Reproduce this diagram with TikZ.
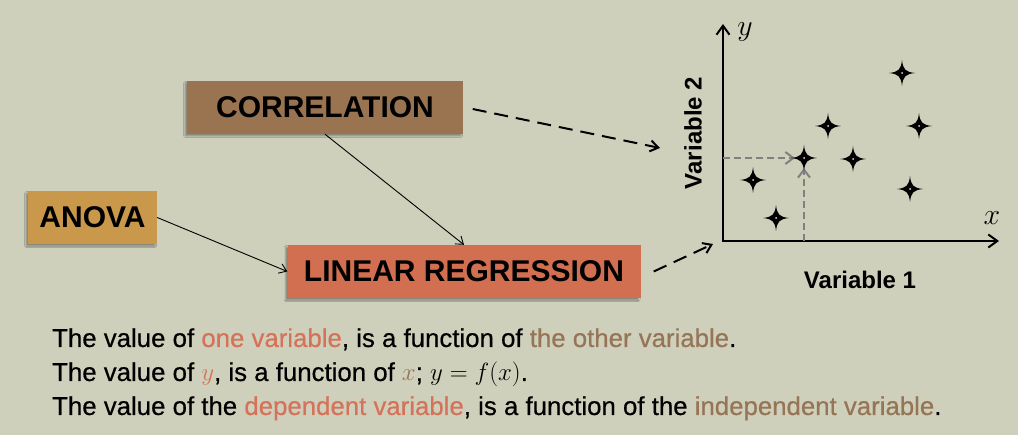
\documentclass[tikz,border=0pt]{standalone}
\usepackage{fontspec}
\setmainfont{Liberation Sans}
\newfontfamily\mediumsans[FakeBold=0.5]{Liberation Sans}
\usetikzlibrary{arrows.meta,positioning,calc,shadows.blur}
\definecolor{slidebg}{HTML}{CFD0BB}
\definecolor{corrbrown}{HTML}{9A7351}
\definecolor{anovagold}{HTML}{C9984A}
\definecolor{regred}{HTML}{D26F50}
\definecolor{keyred}{HTML}{D4735A}
\definecolor{keybrown}{HTML}{967456}
\definecolor{guidegray}{HTML}{80817F}
\newcommand{\bigmath}[1]{{\fontsize{29}{30}\selectfont$#1$}}

\tikzset{
  labelbox/.style={minimum height=53pt, inner sep=0pt, text=black,
    font=\fontsize{30}{36}\selectfont\bfseries,
    blur shadow={shadow xshift=-2pt, shadow yshift=-2pt, shadow blur radius=1.5pt, shadow blur steps=3, shadow opacity=35}},
  thinarrow/.style={line width=0.9pt, -{Straight Barb[length=7pt,width=10pt]}},
  dasharrow/.style={line width=2pt, dash pattern=on 14pt off 8pt, -{Straight Barb[length=8pt,width=11pt]}},
  axis/.style={line width=2.5pt, -{Straight Barb[length=9pt,width=13pt,line width=2pt]}},
  guide/.style={guidegray, line width=2pt, dash pattern=on 7pt off 4pt, -{Straight Barb[length=8pt,width=12pt]}},
  axislabel/.style={inner sep=0pt, font=\fontsize{24}{28}\selectfont\bfseries},
  mathlabel/.style={inner sep=0pt, scale=1.2, font=\fontsize{24.88}{30}\selectfont},
  sentence/.style={anchor=base west, inner sep=0pt, font=\fontsize{25.8}{30}\selectfont\mediumsans},
  sparkle/.pic={
    \fill[black] (0,-13) .. controls (1,-3.5) and (3.5,-1) .. (13,0)
      .. controls (3.5,1) and (1,3.5) .. (0,13)
      .. controls (-1,3.5) and (-3.5,1) .. (-13,0)
      .. controls (-3.5,-1) and (-1,-3.5) .. cycle;
    \fill[white!75!gray] (0,0) circle (1pt);
  }
}

\begin{document}
\begin{tikzpicture}[x=1pt,y=-1pt]
\fill[slidebg] (0,0) rectangle (1018,435);

% boxes
\node[labelbox, fill=corrbrown, minimum width=276pt] (corr) at (325,107.5) {CORRELATION};
\node[labelbox, fill=anovagold, minimum width=129pt] (anova) at (92.5,217.5) {ANOVA};
\node[labelbox, fill=regred, minimum width=353pt] (linreg) at (464,271.5) {LINEAR REGRESSION};

% scatter plot
\coordinate (origin) at (723,241);
\coordinate (ytop) at (723,24);
\coordinate (xend) at (999,241);
\coordinate (plotin) at (660,148);
\coordinate (hit) at (804,158);
\draw[axis] (origin) -- (ytop);
\draw[axis] ([xshift=-1.2pt]origin) -- (xend);
\node[mathlabel] (ylbl) at (745,32) {$y$};
\node[mathlabel] (xlbl) at (992,218) {$x$};
\node[axislabel, rotate=90] (var2) at (693,133) {Variable 2};
\node[axislabel] (var1) at (860,280) {Variable 1};

\draw[guide] (origin |- hit) -- ([xshift=-9pt]hit);
\draw[guide] (hit |- origin) -- ([yshift=-10pt]hit);

\foreach \sx/\sy in {902/73, 828/126, 919/126, 804/158, 853/159, 753/180, 910/189, 776/218}
  \pic at (\sx,\sy) {sparkle};

% links
\draw[thinarrow] (corr.south) -- (linreg.north);
\draw[thinarrow] (anova.east) -- (linreg.west);
\draw[dasharrow] ([xshift=9.5pt,yshift=-1.5pt]corr.east) -- (plotin);
\draw[dasharrow] ([xshift=13pt]linreg.east) -- ([xshift=-10pt,yshift=-3pt]origin);

% sentences
\node[sentence] (line1) at (52,347) {The value of \textcolor{keyred}{one variable}, is a function of \textcolor{keybrown}{the other variable}.};
\node[sentence] (line2) at (52,381) {The value of \textcolor{keyred}{\bigmath{y}}, is a function of \textcolor{keybrown}{\bigmath{x}}; \bigmath{y=f(x)}.};
\node[sentence] (line3) at (52,415) {The value of the \textcolor{keyred}{dependent variable}, is a function of the \textcolor{keybrown}{independent variable}.};
\end{tikzpicture}
\end{document}
